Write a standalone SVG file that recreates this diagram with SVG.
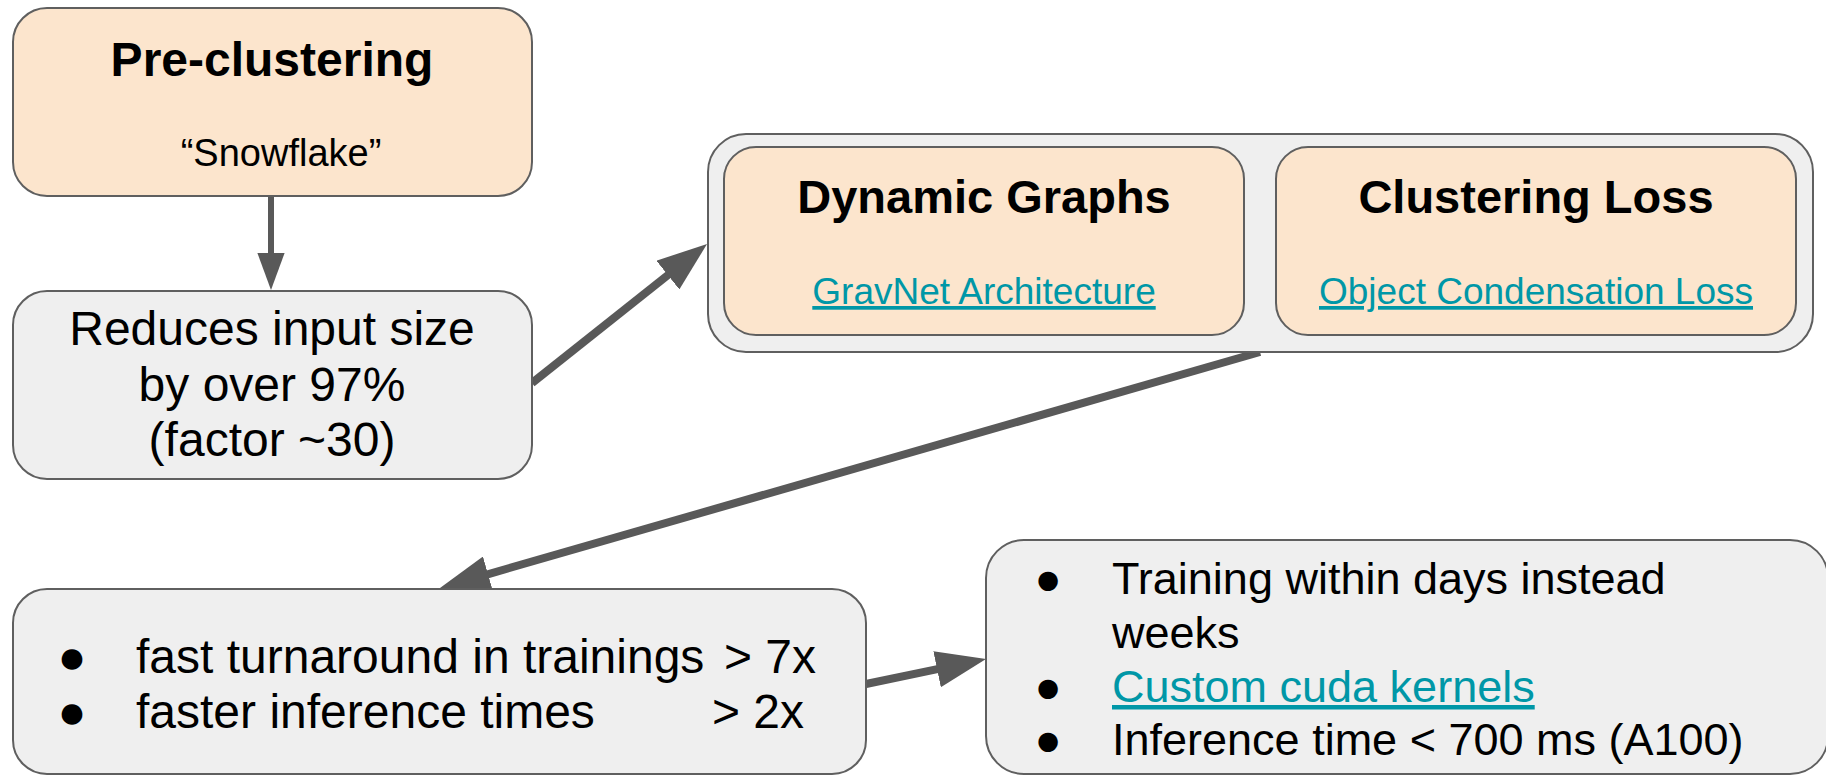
<svg xmlns="http://www.w3.org/2000/svg" width="1826" height="775" viewBox="0 0 1826 775">
<style>
.box{stroke:#5f5f5f;stroke-width:2}
.peach{fill:#fce5cd}
.gray{fill:#efefef}
text{font-family:"Liberation Sans",Arial,Helvetica,sans-serif;fill:#000}
.title{font-weight:bold;font-size:48px;text-anchor:middle}
.sub{font-size:38px;text-anchor:middle}
.big{font-size:48px}
.mid{font-size:45px}
.c{text-anchor:middle}
.link{fill:#0097a7;text-decoration:underline;font-size:37px;text-anchor:middle}
.conn{stroke:#595959;fill:none}
</style>
<defs>
<marker id="ah" viewBox="0 0 6.25 4.6" refX="0.5" refY="2.3" markerWidth="6.25" markerHeight="4.6" markerUnits="strokeWidth" orient="auto">
<path d="M0,0 L6.25,2.3 L0,4.6 z" fill="#595959"/>
</marker>
</defs>
<g id="connectors">
<line class="conn" x1="271" y1="196" x2="271" y2="255.5" stroke-width="6" marker-end="url(#ah)"/>
<line class="conn" x1="532" y1="383" x2="671" y2="272.6" stroke-width="8" marker-end="url(#ah)"/>
<line class="conn" x1="1260" y1="352" x2="484.2" y2="575.3" stroke-width="8" marker-end="url(#ah)"/>
<line class="conn" x1="866" y1="684" x2="941" y2="668.4" stroke-width="8" marker-end="url(#ah)"/>
</g>
<g id="preclustering">
<rect class="box peach" x="13" y="8" width="519" height="188" rx="34"/>
<text class="title" x="272" y="76">Pre-clustering</text>
<text class="sub" x="281" y="166">“Snowflake”</text>
</g>
<g id="reduces">
<rect class="box gray" x="13" y="291" width="519" height="188" rx="34"/>
<text class="big c" x="272" y="345">Reduces input size</text>
<text class="big c" x="272" y="401">by over 97%</text>
<text class="big c" x="272" y="456">(factor ~30)</text>
</g>
<g id="model">
<rect class="box gray" x="708" y="134" width="1105" height="218" rx="38"/>
<g id="dynamic-graphs">
<rect class="box peach" x="724" y="147" width="520" height="188" rx="32"/>
<text class="title" x="984" y="213" style="font-size:47px">Dynamic Graphs</text>
<text class="link" x="984" y="304">GravNet Architecture</text>
</g>
<g id="clustering-loss">
<rect class="box peach" x="1276" y="147" width="520" height="188" rx="32"/>
<text class="title" x="1536" y="213" style="font-size:47px">Clustering Loss</text>
<text class="link" x="1536" y="304">Object Condensation Loss</text>
</g>
</g>
<g id="speedup">
<rect class="box gray" x="13" y="589" width="853" height="185" rx="34"/>
<text class="big" x="72" y="673" text-anchor="middle">●</text>
<text class="big" x="136" y="673">fast turnaround in trainings<tspan x="724">&gt; 7x</tspan></text>
<text class="big" x="72" y="728" text-anchor="middle">●</text>
<text class="big" x="136" y="728">faster inference times<tspan x="712">&gt; 2x</tspan></text>
</g>
<g id="results">
<rect class="box gray" x="986" y="540" width="842" height="234" rx="38"/>
<text class="mid" x="1048" y="594" text-anchor="middle">●</text>
<text class="mid" x="1112" y="594">Training within days instead</text>
<text class="mid" x="1112" y="648">weeks</text>
<text class="mid" x="1048" y="702" text-anchor="middle">●</text>
<text class="mid" x="1112" y="702" style="fill:#0097a7;text-decoration:underline">Custom cuda kernels</text>
<text class="mid" x="1048" y="755" text-anchor="middle">●</text>
<text class="mid" x="1112" y="755">Inference time &lt; 700 ms (A100)</text>
</g>
</svg>
